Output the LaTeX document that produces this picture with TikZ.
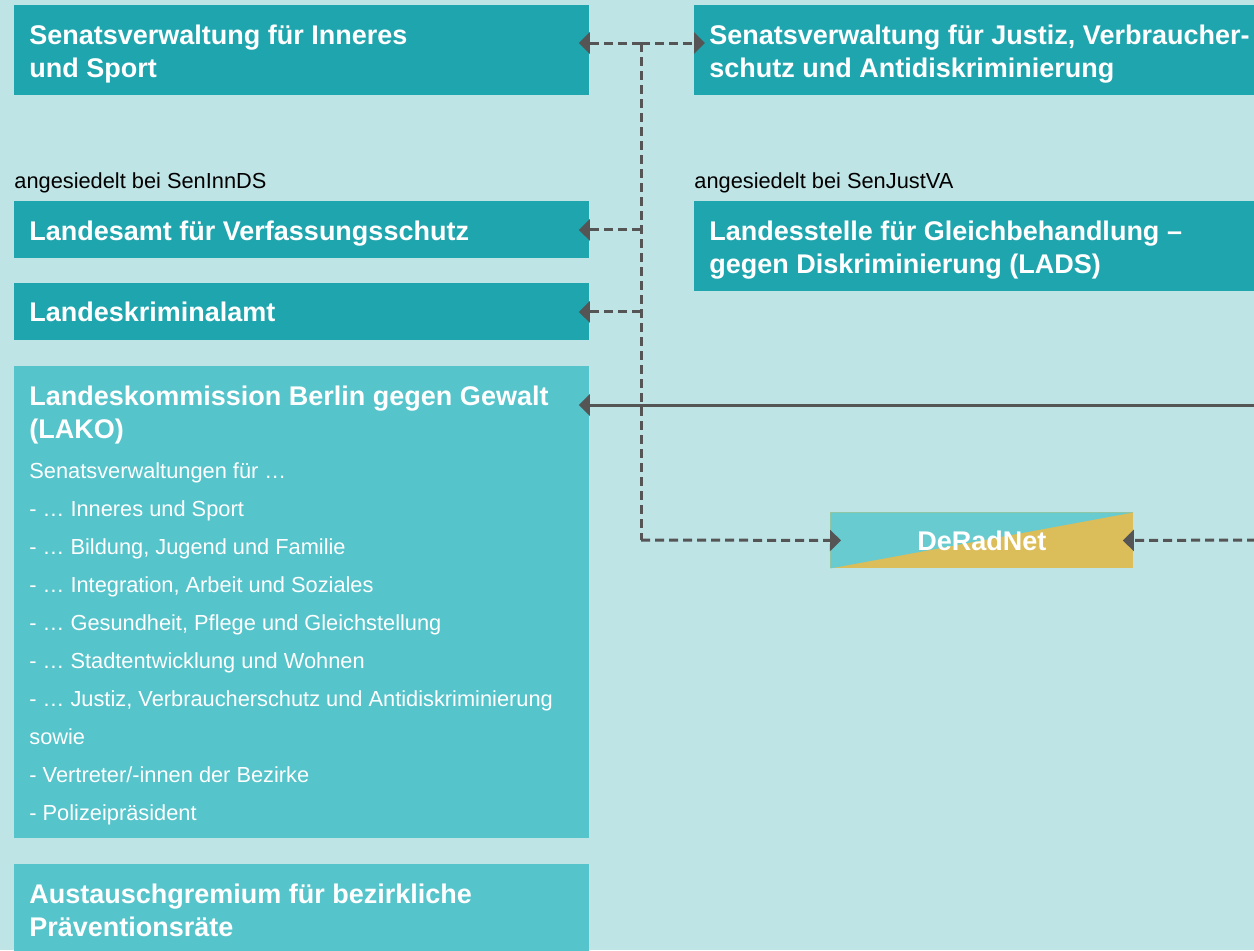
\documentclass[tikz,border=0pt]{standalone}
\usepackage{fontspec}
\setmainfont{Liberation Sans}
\usetikzlibrary{arrows.meta,positioning}
\definecolor{bgblue}{HTML}{BFE4E6}
\definecolor{tealdark}{HTML}{1FA5AE}
\definecolor{teallight}{HTML}{55C4CB}
\definecolor{tealmid}{HTML}{67CBD0}
\definecolor{goldnet}{HTML}{DBBD5A}
\definecolor{linegray}{HTML}{555555}
\newcommand{\titlefont}{\fontsize{13.5}{16.5}\selectfont\bfseries}
\newcommand{\smallfont}{\fontsize{10.9}{19}\selectfont}

\begin{document}
\begin{tikzpicture}[x=0.5pt,y=-0.5pt]
\tikzset{
  box/.style={anchor=north west, text=white, inner xsep=7.5pt, inner ysep=0pt, align=flush left, font=\titlefont},
  lowered/.style={execute at begin node={\rule{0pt}{13pt}}},
  leftbox/.style={box, fill=tealdark, text width=272.5pt},
  rightbox/.style={box, lowered, fill=tealdark, text width=272pt},
  note/.style={anchor=west, inner sep=0pt, font=\smallfont},
  link/.style={draw=linegray, line width=1.5pt, dash pattern=on 4.5pt off 2.5pt, -{Triangle[length=5.5pt,width=10.5pt]}, shorten >=-5.5pt},
  solidlink/.style={draw=linegray, line width=1.5pt, -{Triangle[length=5.5pt,width=10.5pt]}, shorten >=-5.5pt},
  plainlink/.style={draw=linegray, line width=1.5pt, dash pattern=on 4.5pt off 2.5pt}
}
\useasboundingbox (0,0) rectangle (1254,950);
\fill[bgblue] (0,0) rectangle (1254,950);

% left column
\node[leftbox, lowered, minimum height=45pt] (inneres) at (14,5) {Senatsverwaltung für Inneres\\und Sport};
\node[note] (lblinn) at (14,183) {angesiedelt bei SenInnDS};
\node[leftbox, lowered, minimum height=28.5pt] (verfschutz) at (14,201) {Landesamt für Verfassungsschutz};
\node[leftbox, minimum height=28.5pt] (lka) at (14,283) {Landeskriminalamt};
\node[leftbox, lowered, fill=teallight, minimum height=236pt] (lako) at (14,366)
  {{\titlefont Landeskommission Berlin gegen Gewalt\\(LAKO)\par}\vspace{1pt}%
   {\smallfont\mdseries Senatsverwaltungen für …\\
    - … Inneres und Sport\\
    - … Bildung, Jugend und Familie\\
    - … Integration, Arbeit und Soziales\\
    - … Gesundheit, Pflege und Gleichstellung\\
    - … Stadtentwicklung und Wohnen\\
    - … Justiz, Verbraucherschutz und Antidiskriminierung\\
    sowie\\
    - Vertreter/-innen der Bezirke\\
    - Polizeipräsident\par}};
\node[leftbox, fill=teallight, minimum height=45.5pt] (austausch) at (14,864) {Austauschgremium für bezirkliche\\Präventionsräte};

% right column
\node[rightbox, minimum height=45pt] (justiz) at (694,5) {Senatsverwaltung für Justiz, Verbraucher-\\schutz und Antidiskriminierung};
\node[note] (lbljust) at (694,183) {angesiedelt bei SenJustVA};
\node[rightbox, minimum height=45pt] (lads) at (694,201) {Landesstelle für Gleichbehandlung –\\gegen Diskriminierung (LADS)};

\node[anchor=north west, minimum width=151.5pt, minimum height=28pt, inner sep=0pt, fill=goldnet,
  text=white, font=\titlefont,
  path picture={\fill[tealmid] (path picture bounding box.north west) -- (path picture bounding box.north east)
    -- (path picture bounding box.south west) -- cycle;}] (deradnet) at (830,512) {DeRadNet};

% connectors
\coordinate (jtop) at (641,43);
\coordinate (jbot) at (641,540);
\coordinate (redge) at (1270,405);
\coordinate (redge2) at (1270,540);
\draw[link] (jtop) -- (inneres.east |- jtop);
\draw[link] (jtop) -- (justiz.west |- jtop);
\draw[plainlink] (jtop) -- (jbot);
\draw[link] (jbot) -- (deradnet.west);
\draw[link] (jtop |- verfschutz.east) -- (verfschutz.east);
\draw[link] (jtop |- lka.east) -- (lka.east);
\draw[solidlink] (redge) -- (lako.east |- redge);
\draw[link] (redge2) -- (deradnet.east);
\end{tikzpicture}
\end{document}
